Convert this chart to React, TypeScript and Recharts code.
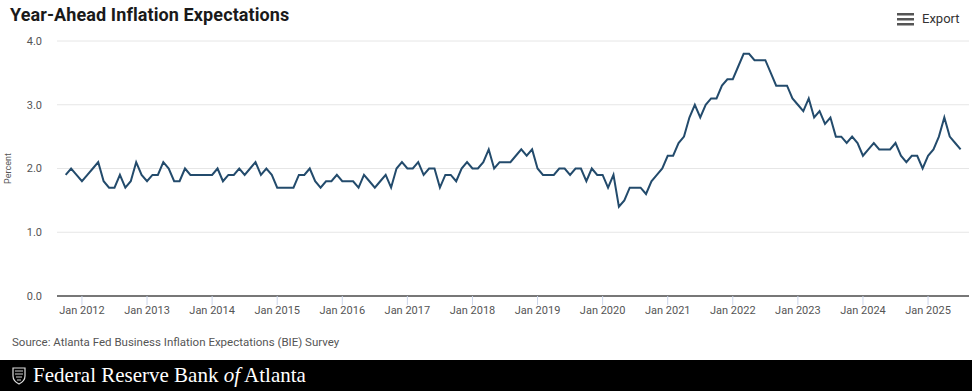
import { LineChart, Line, XAxis, YAxis, CartesianGrid } from "recharts";

const MONTHS = ["Jan", "Feb", "Mar", "Apr", "May", "Jun", "Jul", "Aug", "Sep", "Oct", "Nov", "Dec"];

// monthly survey values, first entry of 2011 is October
const v2011 = [1.9, 2.0, 1.9];
const v2012 = [1.8, 1.9, 2.0, 2.1, 1.8, 1.7, 1.7, 1.9, 1.7, 1.8, 2.1, 1.9];
const v2013 = [1.8, 1.9, 1.9, 2.1, 2.0, 1.8, 1.8, 2.0, 1.9, 1.9, 1.9, 1.9];
const v2014 = [1.9, 2.0, 1.8, 1.9, 1.9, 2.0, 1.9, 2.0, 2.1, 1.9, 2.0, 1.9];
const v2015 = [1.7, 1.7, 1.7, 1.7, 1.9, 1.9, 2.0, 1.8, 1.7, 1.8, 1.8, 1.9];
const v2016 = [1.8, 1.8, 1.8, 1.7, 1.9, 1.8, 1.7, 1.8, 1.9, 1.7, 2.0, 2.1];
const v2017 = [2.0, 2.0, 2.1, 1.9, 2.0, 2.0, 1.7, 1.9, 1.9, 1.8, 2.0, 2.1];
const v2018 = [2.0, 2.0, 2.1, 2.3, 2.0, 2.1, 2.1, 2.1, 2.2, 2.3, 2.2, 2.3];
const v2019 = [2.0, 1.9, 1.9, 1.9, 2.0, 2.0, 1.9, 2.0, 2.0, 1.8, 2.0, 1.9];
const v2020 = [1.9, 1.7, 1.9, 1.4, 1.5, 1.7, 1.7, 1.7, 1.6, 1.8, 1.9, 2.0];
const v2021 = [2.2, 2.2, 2.4, 2.5, 2.8, 3.0, 2.8, 3.0, 3.1, 3.1, 3.3, 3.4];
const v2022 = [3.4, 3.6, 3.8, 3.8, 3.7, 3.7, 3.7, 3.5, 3.3, 3.3, 3.3, 3.1];
const v2023 = [3.0, 2.9, 3.1, 2.8, 2.9, 2.7, 2.8, 2.5, 2.5, 2.4, 2.5, 2.4];
const v2024 = [2.2, 2.3, 2.4, 2.3, 2.3, 2.3, 2.4, 2.2, 2.1, 2.2, 2.2, 2.0];
const v2025 = [2.2, 2.3, 2.5, 2.8, 2.5, 2.4, 2.3];

const years: Array<[number, number[]]> = [
  [2011, v2011], [2012, v2012], [2013, v2013], [2014, v2014], [2015, v2015],
  [2016, v2016], [2017, v2017], [2018, v2018], [2019, v2019], [2020, v2020],
  [2021, v2021], [2022, v2022], [2023, v2023], [2024, v2024], [2025, v2025],
];

const yearTicks = [
  "Jan 2012", "Jan 2013", "Jan 2014", "Jan 2015", "Jan 2016", "Jan 2017", "Jan 2018",
  "Jan 2019", "Jan 2020", "Jan 2021", "Jan 2022", "Jan 2023", "Jan 2024", "Jan 2025",
];

const yTicks = [0, 1, 2, 3, 4];

const data: Array<{ t: number; label: string; value: number }> = [];
years.forEach(([yr, vals]) => {
  const start = yr === 2011 ? 9 : 0;
  vals.forEach((v, k) => {
    data.push({ t: data.length, label: `${MONTHS[start + k]} ${yr}`, value: v });
  });
});

const tickIdx = yearTicks.map((l) => data.find((d) => d.label === l)!.t);
const labelOf = (t: number) => data[t]?.label ?? "";

const font = "Roboto, 'Noto Sans', sans-serif";

export default function App() {
  return (
    <div style={{ position: "absolute", left: 0, top: 0, width: 972, height: 391, background: "#fff", fontFamily: font, overflow: "hidden" }}>
      <div style={{ position: "absolute", left: 10, top: 4, fontSize: 18, fontWeight: 700, color: "#1a1a1a", letterSpacing: 0.1 }}>
        Year-Ahead Inflation Expectations
      </div>
      <div style={{ position: "absolute", left: 897, top: 11, display: "flex", alignItems: "center", color: "#333", fontSize: 13 }}>
        <svg width={17} height={14} style={{ marginRight: 8 }}>
          <rect x={0} y={1} width={17} height={2.5} fill="#555" />
          <rect x={0} y={6} width={17} height={2.5} fill="#555" />
          <rect x={0} y={11} width={17} height={2.5} fill="#555" />
        </svg>
        Export
      </div>
      <div style={{ position: "absolute", left: 0, top: 0 }}>
        <LineChart width={972} height={330} data={data} margin={{ top: 41, right: 3, bottom: 4, left: 0 }}>
          <CartesianGrid vertical={false} stroke="#e6e6e6" />
          <XAxis
            dataKey="t"
            type="number"
            domain={[-1.6, 166.55]}
            ticks={tickIdx}
            tickFormatter={labelOf}
            height={30}
            tickSize={9}
            tickMargin={1}
            tick={{ fill: "#555", fontSize: 11 }}
            tickLine={{ stroke: "#ccd6eb" }}
            axisLine={{ stroke: "#777", strokeWidth: 2 }}
            allowDataOverflow
          />
          <YAxis
            domain={[0, 4]}
            ticks={yTicks}
            tickFormatter={(v: number) => v.toFixed(1)}
            width={57}
            tickLine={false}
            axisLine={false}
            tickMargin={9}
            tick={{ fill: "#555", fontSize: 11 }}
            label={{ value: "Percent", angle: -90, position: "insideLeft", offset: 8, fill: "#555", fontSize: 9, style: { textAnchor: "middle" } }}
          />
          <Line type="linear" dataKey="value" stroke="#234b6c" strokeWidth={2} dot={false} isAnimationActive={false} />
        </LineChart>
      </div>
      <div style={{ position: "absolute", left: 12, top: 335, fontSize: 11.5, color: "#555" }}>
        Source: Atlanta Fed Business Inflation Expectations (BIE) Survey
      </div>
      <div style={{ position: "absolute", left: 0, top: 360, width: 972, height: 31, background: "#000", display: "flex", alignItems: "center" }}>
        <svg width={14} height={18} style={{ marginLeft: 12, marginRight: 7 }}>
          <path d="M1 1 L13 1 L13 9 Q13 14 7 17 Q1 14 1 9 Z" fill="none" stroke="#ddd" strokeWidth={1.2} />
          <path d="M3 4 L11 4 M3 7 L11 7 M4 10 L10 10 M5 13 L9 13" stroke="#ccc" strokeWidth={1.2} />
        </svg>
        <span style={{ color: "#fff", fontFamily: "'Liberation Serif', 'DejaVu Serif', serif", fontSize: 21 }}>
          Federal Reserve Bank <i>of</i> Atlanta
        </span>
      </div>
    </div>
  );
}
